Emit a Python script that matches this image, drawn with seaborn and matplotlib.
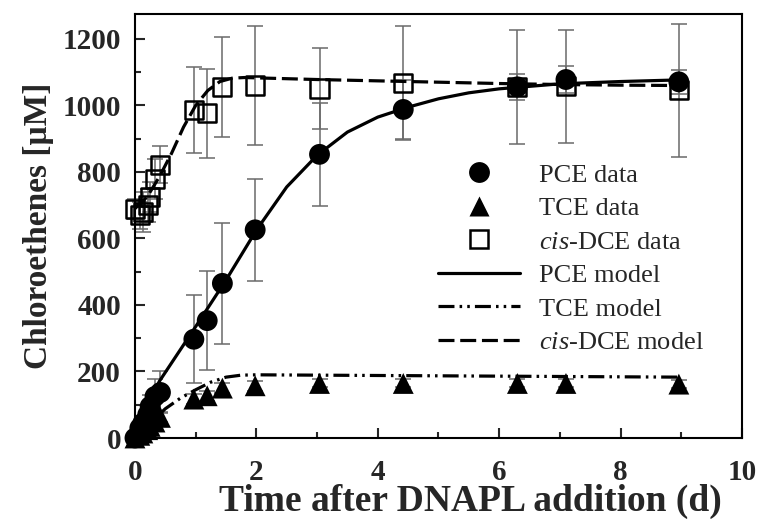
import numpy as np
import matplotlib
matplotlib.use("Agg")
import matplotlib.pyplot as plt
from matplotlib.lines import Line2D
from matplotlib.ticker import MultipleLocator
import seaborn as sns

# measured data (days, uM)
t_days = [0, 0.08, 0.13, 0.21, 0.25, 0.33, 0.42, 0.97, 1.19, 1.44, 1.98, 3.04, 4.42, 6.30, 7.10, 8.96]
pce = [0, 30, 45, 70, 95, 125, 137, 297, 353, 465, 626, 853, 988, 1056, 1078, 1071]
pce_err = [0, 10, 15, 25, 35, 52, 63, 133, 150, 183, 153, 155, 90, 40, 40, 37]
tce = [0, 8, 15, 25, 35, 48, 62, 117, 127, 150, 157, 164, 164, 164, 164, 162]
tce_err = [0, 3, 5, 8, 10, 12, 15, 15, 15, 15, 15, 12, 12, 12, 12, 12]
dce = [690, 670, 680, 700, 725, 780, 822, 986, 976, 1056, 1060, 1051, 1068, 1056, 1058, 1046]
dce_err = [30, 40, 60, 50, 45, 60, 55, 130, 135, 150, 178, 123, 171, 172, 170, 200]

# model curves
pce_model_t = [0, 0.2, 0.4, 0.6, 0.8, 1.0, 1.25, 1.5, 1.75, 2.0, 2.5, 3.0, 3.5, 4.0, 4.5, 5.0, 5.5, 6.0, 7.0, 8.0, 9.0]
pce_model = [0, 90, 170, 225, 280, 335, 405, 475, 550, 625, 755, 850, 920, 965, 995, 1020, 1038, 1050, 1065, 1072, 1077]
tce_model_t = [0, 0.25, 0.5, 0.75, 1.0, 1.25, 1.5, 1.75, 2.0, 3.0, 4.0, 5.0, 6.0, 7.0, 8.0, 9.0]
tce_model = [0, 45, 88, 120, 145, 168, 183, 189, 190, 189, 188, 187, 186, 185, 184, 183]
dce_model_t = [0, 0.2, 0.4, 0.6, 0.8, 1.0, 1.2, 1.4, 1.6, 1.8, 2.0, 3.0, 4.0, 5.0, 6.0, 7.0, 8.0, 9.0]
dce_model = [690, 725, 785, 855, 935, 1000, 1045, 1072, 1082, 1084, 1083, 1078, 1074, 1070, 1066, 1063, 1061, 1060]

legend_labels = ["PCE data", "TCE data", "$\\it{cis}$-DCE data",
                 "PCE model", "TCE model", "$\\it{cis}$-DCE model"]

sns.set_style("ticks")
plt.rcParams['font.family'] = ['Liberation Serif', 'DejaVu Serif']
plt.rcParams['mathtext.fontset'] = 'custom'
plt.rcParams['mathtext.rm'] = 'Liberation Serif'
plt.rcParams['mathtext.it'] = 'Liberation Serif:italic'

fig = plt.figure(figsize=(7.6, 5.21), dpi=100)
ax = fig.add_axes([0.1776, 0.1593, 0.7987, 0.8138])

lw = 2.3
tce_dash = (5, 1.6, 0.8, 1.6, 0.8, 1.6)
dce_dash = (5, 1.8)

# error bars first (grey, behind markers)
for y, e in [(dce, dce_err), (pce, pce_err), (tce, tce_err)]:
    ax.errorbar(t_days, y, yerr=e, fmt='none', ecolor='#6a6a6a', elinewidth=1.1,
                capsize=5.5, capthick=1.1, zorder=1, clip_on=False)

sns.lineplot(x=pce_model_t, y=pce_model, ax=ax, color='black', linewidth=lw, zorder=2)
sns.lineplot(x=tce_model_t, y=tce_model, ax=ax, color='black', linewidth=lw,
             linestyle=(0, tce_dash), zorder=2)
sns.lineplot(x=dce_model_t, y=dce_model, ax=ax, color='black', linewidth=lw,
             linestyle=(0, dce_dash), zorder=2)

sns.scatterplot(x=t_days, y=dce, ax=ax, marker='s', s=13**2, facecolor='none',
                edgecolor='black', linewidth=1.8, zorder=3, clip_on=False)
sns.scatterplot(x=t_days, y=tce, ax=ax, marker='^', s=15**2, color='black',
                edgecolor='none', zorder=4, clip_on=False)
sns.scatterplot(x=t_days, y=pce, ax=ax, marker='o', s=15**2, color='black',
                edgecolor='none', zorder=5, clip_on=False)

ax.set_xlim(0, 10)
ax.set_ylim(0, 1275)
ax.xaxis.set_major_locator(MultipleLocator(2))
ax.xaxis.set_minor_locator(MultipleLocator(1))
ax.yaxis.set_major_locator(MultipleLocator(200))
ax.yaxis.set_minor_locator(MultipleLocator(100))
ax.tick_params(which='both', direction='in', top=False, right=False, width=1.5,
               labelsize=21)
ax.tick_params(axis='x', which='major', length=7, pad=15)
ax.tick_params(axis='y', which='major', length=7, pad=10)
ax.tick_params(which='minor', length=4)
for lab in ax.get_xticklabels() + ax.get_yticklabels():
    lab.set_fontweight('bold')
for sp in ax.spines.values():
    sp.set_visible(True)
    sp.set_linewidth(1.5)
    sp.set_color('black')

ax.set_xlabel("Time after DNAPL addition (d)", fontsize=27, fontweight='bold')
ax.xaxis.set_label_coords(0.552, -0.108, transform=ax.transAxes)
ax.xaxis.label.set_verticalalignment('top')
ax.set_ylabel("Chloroethenes [\u03bcM]", fontsize=24, fontweight='bold', labelpad=6)

handles = [
    Line2D([], [], ls='none', marker='o', ms=15, color='black', mec='none'),
    Line2D([], [], ls='none', marker='^', ms=15, color='black', mec='none'),
    Line2D([], [], ls='none', marker='s', ms=13, mfc='none', mec='black', mew=1.8),
    Line2D([], [], color='black', lw=lw),
    Line2D([], [], color='black', lw=lw, ls=(0, tce_dash)),
    Line2D([], [], color='black', lw=lw, ls=(0, dce_dash)),
]
ax.legend(handles, legend_labels, loc='upper left', bbox_to_anchor=(0.5, 0.648),
          frameon=False, fontsize=19, handlelength=3.1, handletextpad=0.7,
          labelspacing=0.38, borderpad=0, borderaxespad=0)

fig.savefig("out.png", dpi=100)
